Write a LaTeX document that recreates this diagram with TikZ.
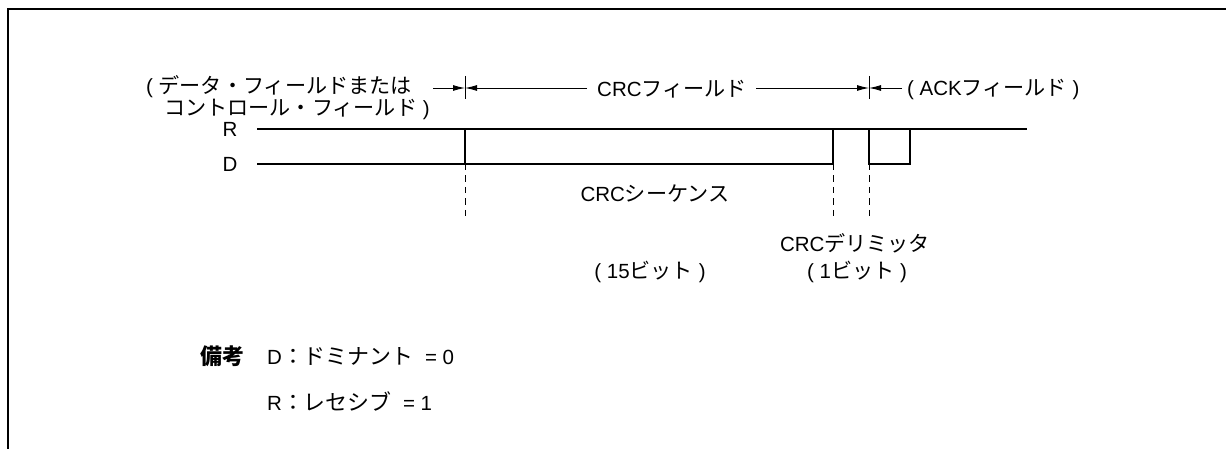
\documentclass[tikz,border=0pt]{standalone}
\usepackage{fontspec}
\setmainfont{Liberation Sans}
\newfontfamily\jp[Scale=1.03]{Noto Sans CJK JP}
\newfontfamily\jpl[Scale=1.07]{Noto Sans CJK JP}
\usetikzlibrary{arrows.meta}
\begin{document}
\begin{tikzpicture}[x=1pt,y=-1pt,
  every node/.style={font=\fontsize{20.5}{23}\selectfont, inner sep=0pt},
  frame/.style={line width=2pt},
  sig/.style={line width=2.4pt},
  dim/.style={line width=0.9pt},
  tick/.style={line width=0.9pt},
  guide/.style={line width=0.9pt, dash pattern=on 6.5pt off 5pt},
  tip/.style={-{Latex[length=12pt,width=6pt]}}
]
\useasboundingbox (0,0) rectangle (1226,449);
% frame
\coordinate (fbl) at (8,449);
\coordinate (ftl) at (8,9);
\coordinate (ftr) at (1226,9);
\draw[frame] (fbl) -- (ftl) -- (ftr);

% field labels
\node[anchor=west] (prev1) at (146,86.5) {( {\jp データ・フィールドまたは}};
\node[anchor=west] (prev2) at (164,109.5) {{\jp コントロール・フィールド} )};
\node (crcf) at (672,89.5) {CRC{\jp フィールド}};
\node[anchor=west] (ackf) at (907,89.5) {( ACK{\jp フィールド} )};

% ticks
\coordinate (t1a) at (465,76); \coordinate (t1b) at (465,99); \coordinate (t1m) at (465,88);
\coordinate (t2a) at (869,76); \coordinate (t2b) at (869,99); \coordinate (t2m) at (869,88);
\draw[tick] (t1a) -- (t1b);
\draw[tick] (t2a) -- (t2b);
\coordinate (d1) at (433,88);
\coordinate (d2) at (587,88);
\coordinate (d3) at (756,88);
\coordinate (d4) at (902,88);
\draw[dim,tip] (d1) -- (t1m);
\draw[dim,tip] (d2) -- (t1m);
\draw[dim,tip] (d3) -- (t2m);
\draw[dim,tip] (d4) -- (t2m);

% signal levels
\node (rl) at (230,129) {R};
\node (dl) at (230,164) {D};
\coordinate (r0) at (257,129); \coordinate (r1) at (1027,129);
\coordinate (q0) at (257,164); \coordinate (q1) at (833,164);
\coordinate (a1) at (465,129); \coordinate (a2) at (465,164);
\coordinate (b1) at (833,129);
\coordinate (c1) at (869,129); \coordinate (c2) at (869,164);
\coordinate (e1) at (910,164); \coordinate (e2) at (910,129);
\draw[sig] (r0) -- (r1);
\draw[sig] (q0) -- (q1) -- (b1);
\draw[sig] (a1) -- (a2);
\draw[sig] (c1) -- (c2) -- (e1) -- (e2);

% guides
\coordinate (g1) at (465,216); \coordinate (g2) at (833,216); \coordinate (g3) at (869,216);
\draw[guide] (a2) -- (g1);
\draw[guide] (q1) -- (g2);
\draw[guide] (c2) -- (g3);

% annotations
\node (seq) at (655,193.5) {CRC{\jp シーケンス}};
\node (seqb) at (650,271.5) {( 15{\jp ビット} )};
\node (del) at (855,243.5) {CRC{\jp デリミッタ}};
\node (delb) at (857,271.5) {( 1{\jp ビット} )};

% legend
\node (note) at (222,356) {\jpl\bfseries 備考};
\node[anchor=west] (ld) at (267,356) {D{\jpl ：ドミナント} \ = 0};
\node[anchor=west] (lr) at (267,401) {R{\jpl ：レセシブ} \ = 1};
\end{tikzpicture}
\end{document}
